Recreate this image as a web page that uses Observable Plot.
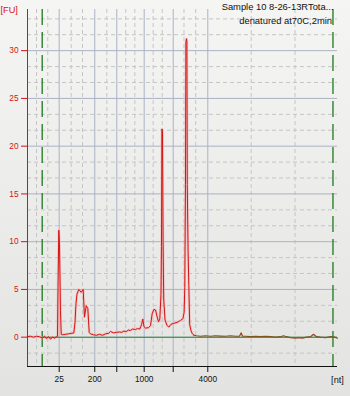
<!DOCTYPE html>
<html>
<head>
<meta charset="utf-8">
<script src="https://cdn.jsdelivr.net/npm/d3@7"></script>
<script src="https://cdn.jsdelivr.net/npm/@observablehq/plot@0.6"></script>
<style>
  html, body { margin: 0; padding: 0; }
  body {
    width: 350px; height: 396px; overflow: hidden;
    background: linear-gradient(#f5f5f4, #e3e3e1);
  }
  #chart svg { display: block; }
</style>
</head>
<body>
<div id="chart"></div>
<script>
// Electropherogram: migration time (s) vs fluorescence [FU]
const migrationTime = [
  20.00, 20.48, 20.97, 21.45, 21.94, 22.42, 22.74, 23.06, 23.39, 23.71,
  24.03, 24.35, 24.68, 24.84, 24.92, 25.05, 25.16, 25.32, 25.44, 25.65,
  26.13, 26.61, 27.10, 27.47, 27.66, 27.82, 27.98, 28.27, 28.66, 28.98,
  29.19, 29.47, 29.73, 29.95, 30.16, 30.65, 31.13, 31.61, 32.10, 32.58,
  33.06, 33.39, 33.87, 34.35, 34.84, 35.16, 35.53, 35.97, 36.29, 36.61,
  36.94, 37.42, 37.74, 38.11, 38.39, 38.60, 38.79, 39.03, 39.52, 39.84,
  40.11, 40.37, 40.65, 40.92, 41.13, 41.34, 41.53, 41.61, 41.68, 41.77,
  41.87, 41.97, 42.18, 42.50, 42.79, 43.15, 43.60, 44.15, 44.68, 45.08,
  45.26, 45.37, 45.48, 45.55, 45.65, 45.71, 45.77, 45.90, 46.02, 46.16,
  46.37, 46.56, 46.85, 47.26, 47.90, 48.71, 49.52, 50.32, 51.13, 51.94,
  52.74, 53.55, 54.19, 54.47, 54.68, 55.16, 55.97, 56.77, 57.58, 58.39,
  59.19, 60.00, 60.81, 61.29, 61.77, 62.42, 63.23, 63.71, 64.35, 65.00,
  65.65, 66.13, 66.61, 67.26, 68.06, 68.87, 69.52, 70.00
];
const fluorescence = [
  0.05, 0.10, 0.00, 0.10, 0.05, -0.10, 0.10, -0.15, 0.05, -0.20,
  0.00, -0.10, 0.05, 0.10, 5.20, 11.20, 9.80, 2.80, 0.30, 0.25,
  0.30, 0.35, 0.40, 0.45, 1.50, 3.50, 4.50, 5.00, 4.70, 5.00,
  2.10, 3.30, 3.00, 0.50, 0.35, 0.25, 0.20, 0.30, 0.20, 0.35,
  0.40, 0.60, 0.45, 0.50, 0.55, 0.50, 0.63, 0.60, 0.75, 0.70,
  0.85, 0.80, 0.90, 0.85, 1.30, 1.90, 1.10, 0.95, 1.00, 1.20,
  2.45, 2.90, 2.85, 2.10, 1.60, 1.90, 4.50, 9.50, 21.80, 21.60,
  10.00, 4.00, 1.80, 1.25, 1.05, 1.35, 1.45, 1.55, 1.75, 1.95,
  2.60, 5.20, 16.00, 30.90, 31.25, 31.00, 16.00, 9.00, 5.40, 1.30,
  0.70, 0.40, 0.20, 0.15, 0.10, 0.15, 0.10, 0.15, 0.12, 0.10,
  0.15, 0.10, 0.10, 0.45, 0.10, 0.10, 0.05, 0.10, 0.05, 0.10,
  0.05, 0.00, 0.05, 0.15, 0.05, -0.05, -0.10, -0.05, -0.10, 0.00,
  0.05, 0.30, 0.05, 0.00, -0.05, 0.05, 0.00, -0.10
];

// Ladder positions on the size axis (labelled and unlabelled major ticks)
const ladderTimes = [25.11, 30.85, 34.40, 38.82, 43.50, 49.08];
const ladderLabels = ["25", "200", "", "1000", "", "4000"];
// Minor (dashed) time grid
const minorTimes = [21.45, 23.27, 27.05, 28.87, 32.79, 35.85, 37.31, 40.27, 41.73, 45.24, 47.13, 56.08, 63.15];
// Lower / upper marker window
const markerTimes = [22.37, 69.27];
// Fluorescence ticks and dashed minor levels
const fuTicks = [0, 5, 10, 15, 20, 25, 30];
const fuMinor = [-1.67, 1.67, 3.33, 6.67, 8.33, 11.67, 13.33, 16.67, 18.33, 21.67, 23.33, 26.67, 28.33, 31.67, 33.33];

const titleLines = ["Sample 10 8-26-13RTota...", "denatured at70C,2min"];

const trace = migrationTime.map((t, i) => ({t, fu: fluorescence[i]}));
const tailStart = 46.85;
const main = trace.filter(d => d.t <= tailStart);
const tail = trace.filter(d => d.t >= tailStart);

const xMin = 20, xMax = 70, yMin = -3.07, yMax = 34.31;
const red = "#d81212";

const chart = Plot.plot({
  width: 350,
  height: 396,
  marginLeft: 27,
  marginRight: 13,
  marginTop: 9,
  marginBottom: 30,
  style: {background: "transparent", fontFamily: "'Liberation Sans', Arial, sans-serif", fontSize: "8.3px", overflow: "visible"},
  x: {domain: [xMin, xMax]},
  y: {domain: [yMin, yMax]},
  marks: [
    Plot.ruleY(fuMinor, {stroke: "#c5c5c5", strokeDasharray: "4,3"}),
    Plot.ruleX(minorTimes, {stroke: "#c5c5c5", strokeDasharray: "4,3"}),
    Plot.ruleY(fuTicks, {stroke: "#aab3c4"}),
    Plot.ruleX(ladderTimes, {stroke: "#aab3c4"}),
    Plot.ruleX(markerTimes, {stroke: "#1d7a1d", strokeWidth: 1.3, strokeDasharray: "16,7"}),
    Plot.line(main, {x: "t", y: "fu", stroke: "#f4b0b0", strokeWidth: 2.6, strokeOpacity: 0.6}),
    Plot.line(tail, {x: "t", y: "fu", stroke: "#98441a", strokeWidth: 1.2}),
    Plot.ruleY([0], {x1: markerTimes[0], x2: xMax, stroke: "#2a8a2a", strokeWidth: 1.1}),
    Plot.line(main, {x: "t", y: "fu", stroke: red, strokeWidth: 1}),
    Plot.ruleX([xMin], {stroke: red}),
    Plot.ruleY([yMin], {stroke: "#111"}),
    Plot.axisY({ticks: fuTicks, tickSize: 6, tickPadding: 3, color: red, label: null}),
    Plot.axisX({ticks: ladderTimes, tickFormat: (d, i) => ladderLabels[i], tickSize: 6, tickPadding: 4, color: "#111", label: null}),
    Plot.text([titleLines[0]], {frameAnchor: "top-right", dx: -4, dy: 0.5, lineAnchor: "bottom", textAnchor: "end", fontSize: 9.4, fill: "#111"}),
    Plot.text([titleLines[1]], {frameAnchor: "top-right", dx: -5.5, dy: 14.5, lineAnchor: "bottom", textAnchor: "end", fontSize: 9.4, fill: "#111"}),
    Plot.text(["[FU]"], {frameAnchor: "top-left", dx: -27, dy: 3, lineAnchor: "bottom", textAnchor: "start", fontSize: 9.2, fill: red}),
    Plot.text(["[nt]"], {frameAnchor: "bottom-right", dx: 0, dy: 16.5, lineAnchor: "bottom", textAnchor: "middle", fontSize: 9.2, fill: "#111"})
  ]
});
document.getElementById("chart").append(chart);
</script>
</body>
</html>
